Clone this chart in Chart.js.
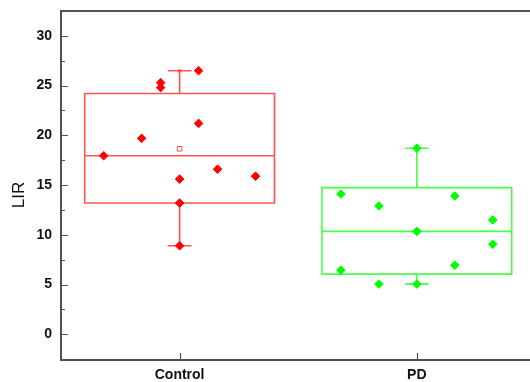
<!DOCTYPE html>
<html>
<head>
<meta charset="utf-8">
<script src="https://cdn.jsdelivr.net/npm/chart.js@4"></script>
<style>
  html, body { margin: 0; padding: 0; background: #fff; overflow: hidden; }
  #c { display: block; }
</style>
</head>
<body>
<canvas id="c" width="530" height="382"></canvas>
<script>
// ---- data ----
const categories = ['Control', 'PD'];
const controlValues = [17.95, 19.7, 25.3, 24.8, 15.6, 13.2, 8.9, 26.5, 21.2, 16.6, 15.9];
const controlSlots  = [-4, -2, -1, -1, 0, 0, 0, 1, 1, 2, 4];
const pdValues = [14.1, 6.45, 12.9, 5.05, 18.7, 10.35, 5.05, 13.9, 6.95, 11.5, 9.05];
const pdSlots  = [-4, -4, -2, -2, 0, 0, 0, 2, 2, 4, 4];
const boxQ1      = [13.2, 6.05];
const boxMedian  = [17.95, 10.35];
const boxQ3      = [24.2, 14.75];
const whiskerLow = [8.9, 5.05];
const whiskerHigh= [26.5, 18.7];
const groupMeans = [18.65, 10.36];
const yTickValues = [0, 5, 10, 15, 20, 25, 30];
const yTitle = 'LIR';

// ---- styling ----
const pointColors = ['#ff0000', '#00ff00'];
const boxColors = ['rgba(255,40,40,0.8)', 'rgba(40,255,40,0.85)'];
const frameColor = '#505050';
const SLOT = 0.08, HALF_BOX = 0.4, HALF_CAP = 0.05;

function pts(vals, slots, g) { return vals.map((v, i) => ({ x: g + slots[i] * SLOT, y: v })); }

const boxPlugin = {
  id: 'boxes',
  beforeDatasetsDraw(chart) {
    const ctx = chart.ctx, xs = chart.scales.x, ys = chart.scales.y;
    ctx.save();
    categories.forEach((c, g) => {
      const xl = xs.getPixelForValue(g - HALF_BOX), xr = xs.getPixelForValue(g + HALF_BOX);
      const xc = xs.getPixelForValue(g);
      const cl = xs.getPixelForValue(g - HALF_CAP), cr = xs.getPixelForValue(g + HALF_CAP);
      const yq1 = ys.getPixelForValue(boxQ1[g]), yq3 = ys.getPixelForValue(boxQ3[g]);
      const ym = ys.getPixelForValue(boxMedian[g]);
      const ylo = ys.getPixelForValue(whiskerLow[g]), yhi = ys.getPixelForValue(whiskerHigh[g]);
      ctx.strokeStyle = boxColors[g];
      ctx.lineWidth = 1.6;
      ctx.beginPath();
      ctx.rect(xl, yq3, xr - xl, yq1 - yq3);
      ctx.moveTo(xl, ym); ctx.lineTo(xr, ym);
      ctx.moveTo(xc, yq3); ctx.lineTo(xc, yhi);
      ctx.moveTo(xc, yq1); ctx.lineTo(xc, ylo);
      ctx.moveTo(cl, yhi); ctx.lineTo(cr, yhi);
      ctx.moveTo(cl, ylo); ctx.lineTo(cr, ylo);
      ctx.stroke();
    });
    ctx.restore();
  },
  afterDraw(chart) {
    const ctx = chart.ctx, a = chart.chartArea, xs = chart.scales.x, ys = chart.scales.y;
    ctx.save();
    ctx.strokeStyle = frameColor;
    ctx.lineWidth = 2;
    ctx.beginPath();
    ctx.moveTo(a.right + 2, a.top); ctx.lineTo(a.left, a.top);
    ctx.lineTo(a.left, a.bottom); ctx.lineTo(a.right + 2, a.bottom);
    ctx.stroke();
    ctx.lineWidth = 1.2;
    ctx.beginPath();
    ys.ticks.forEach(t => {
      const y = Math.round(ys.getPixelForValue(t.value)) + 0.5;
      const major = Math.abs(t.value / 5 - Math.round(t.value / 5)) < 1e-6;
      ctx.moveTo(a.left, y); ctx.lineTo(a.left + (major ? 7 : 4), y);
    });
    xs.ticks.forEach(t => {
      const x = Math.round(xs.getPixelForValue(t.value)) + 0.5;
      ctx.moveTo(x, a.bottom); ctx.lineTo(x, a.bottom - 7);
    });
    ctx.stroke();
    // y title
    ctx.fillStyle = '#111';
    ctx.font = '17px "Liberation Sans", Arial, sans-serif';
    ctx.textAlign = 'center';
    ctx.textBaseline = 'middle';
    ctx.translate(19, 195);
    ctx.rotate(-Math.PI / 2);
    ctx.fillText(yTitle, 0, 0);
    ctx.restore();
  }
};

const tickFont = { family: '"Liberation Sans", Arial, sans-serif', size: 14, weight: 'bold' };

new Chart(document.getElementById('c'), {
  type: 'scatter',
  data: {
    datasets: [
      { label: 'Control', data: pts(controlValues, controlSlots, 0), pointStyle: 'rectRot',
        pointRadius: 4.3, borderWidth: 1, backgroundColor: pointColors[0], borderColor: pointColors[0], order: 1 },
      { label: 'PD', data: pts(pdValues, pdSlots, 1), pointStyle: 'rectRot',
        pointRadius: 4.3, borderWidth: 1, backgroundColor: pointColors[1], borderColor: pointColors[1], order: 1 },
      { label: 'mean', data: groupMeans.map((m, g) => ({ x: g, y: m })), pointStyle: 'rect',
        pointRadius: 3.2, borderWidth: 1, backgroundColor: '#fff', borderColor: boxColors, order: 3 },
      { label: 'extremes', data: whiskerHigh.map((m, g) => ({ x: g, y: m })).concat(whiskerLow.map((m, g) => ({ x: g, y: m }))),
        pointStyle: 'crossRot', pointRadius: 2.5, borderWidth: 1, borderColor: boxColors.concat(boxColors), order: 3 }
    ]
  },
  options: {
    responsive: false,
    animation: false,
    events: [],
    layout: { autoPadding: false, padding: { left: 0, right: 0, top: 11, bottom: 0 } },
    plugins: { legend: { display: false }, tooltip: { enabled: false } },
    scales: {
      x: {
        type: 'linear', min: -0.5, max: 1.477,
        grid: { display: false, drawTicks: false }, border: { display: false },
        afterBuildTicks: s => { s.ticks = categories.map((c, i) => ({ value: i })); },
        afterFit: s => { s.height = 22; s.paddingLeft = 0; s.paddingRight = 0; },
        ticks: { padding: 7, color: '#111', font: tickFont, maxRotation: 0,
                 callback: v => categories[v] }
      },
      y: {
        min: -2.58, max: 32.5,
        grid: { display: false, drawTicks: false }, border: { display: false },
        afterBuildTicks: s => {
          const out = [];
          for (let v = -2.5; v <= 32.5; v += 2.5) if (v >= s.min && v <= s.max) out.push({ value: v });
          s.ticks = out;
        },
        afterFit: s => { s.width = 61; s.paddingTop = 0; s.paddingBottom = 0; },
        ticks: { padding: 9, color: '#111', font: tickFont, autoSkip: false,
                 callback: v => yTickValues.includes(v) ? String(v) : '' }
      }
    }
  },
  plugins: [boxPlugin]
});
</script>
</body>
</html>
